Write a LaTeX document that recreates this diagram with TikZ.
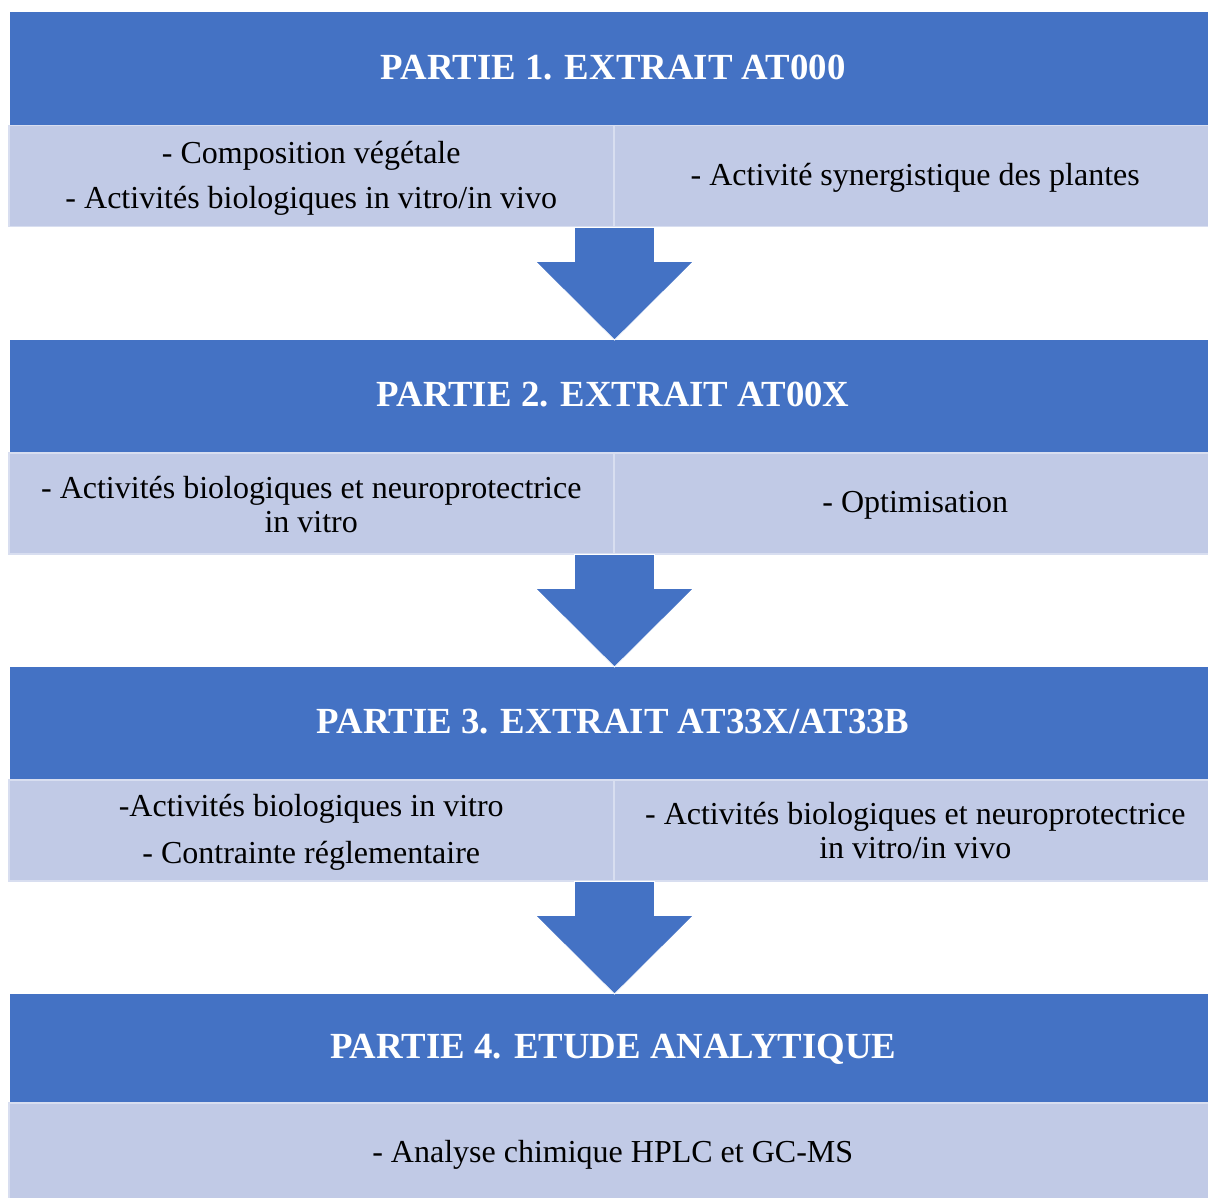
\documentclass[tikz,border=0pt]{standalone}
\usepackage{fontspec}
\setmainfont{Liberation Serif}
\usetikzlibrary{calc}
\definecolor{hblue}{HTML}{4472C4}
\definecolor{lblue}{HTML}{C1CAE6}
\definecolor{lborder}{HTML}{D8DEF0}
\begin{document}
\begin{tikzpicture}[x=1pt,y=-1pt,
  header/.style={fill=hblue, draw=none, minimum width=1198pt, minimum height=113pt, inner sep=0pt,
    anchor=north west},
  htext/.style={text=white, font=\fontsize{36.8}{40}\selectfont\bfseries},
  cellL/.style={fill=lblue, draw=lborder, line width=1.5pt, anchor=north west, inner sep=0pt,
    minimum width=605pt, minimum height=101pt},
  cellR/.style={fill=lblue, draw=lborder, line width=1.5pt, anchor=north west, inner sep=0pt,
    minimum width=595pt, minimum height=101pt},
  body/.style={font=\fontsize{32}{#1}\selectfont, align=center},
  flow/.style={fill=hblue, draw=white, line width=0.8pt}
]
\useasboundingbox[fill=white] (0,0) rectangle (1208,1198);

% Part 1
\node[header] (h1) at (10,12) {};
\node[htext] (t1) at ($(h1.center)+(4,-1.5)$) {PARTIE 1. EXTRAIT AT000};
\node[cellL] (c1l) at (8,125) {};
\node[cellR] (c1r) at (613,125) {};
\node[body=45] (t1l) at ($(c1l.center)+(0,2)$) {- Composition végétale\\- Activités biologiques in vitro/in vivo};
\node[body=45] (t1r) at ($(c1r.center)+(4,2)$) {- Activité synergistique des plantes};

% Part 2
\node[header, minimum height=112pt] (h2) at (10,340) {};
\node[htext] (t2) at ($(h2.center)+(4,-2)$) {PARTIE 2. EXTRAIT AT00X};
\node[cellL] (c2l) at (8,452) {};
\node[cellR] (c2r) at (613,452) {};
\node[body=34] (t2l) at ($(c2l.center)+(0,1)$) {- Activités biologiques et neuroprotectrice\\in vitro};
\node[body=34] (t2r) at ($(c2r.center)+(4,2)$) {- Optimisation};

% Part 3
\node[header, minimum height=112pt] (h3) at (10,667) {};
\node[htext] (t3) at ($(h3.center)+(4,-2)$) {PARTIE 3. EXTRAIT AT33X/AT33B};
\node[cellL] (c3l) at (8,779) {};
\node[cellR] (c3r) at (613,779) {};
\node[body=47] (t3l) at ($(c3l.center)+(0,2)$) {-Activités biologiques in vitro\\- Contrainte réglementaire};
\node[body=34] (t3r) at ($(c3r.center)+(4,0)$) {- Activités biologiques et neuroprotectrice\\in vitro/in vivo};

% Part 4
\node[header, minimum height=108pt] (h4) at (10,994) {};
\node[htext] (t4) at ($(h4.center)+(4,1)$) {PARTIE 4. ETUDE ANALYTIQUE};
\node[cellL, minimum width=1200pt, minimum height=98pt] (c4) at (8,1102) {};
\node[body=40] (t4b) at ($(c4.center)+(4,3)$) {- Analyse chimique HPLC et GC-MS};

% Arrows
\foreach \a/\b in {c1l/h2, c2l/h3, c3l/h4}{
  \draw[flow] (\a.south east) ++(-40,0) -- ++(80,0) -- ++(0,34) -- ++(39,0)
    -- (\a.south east |- \b.north) -- ($(\a.south east)+(-79,34)$) -- ++(39,0) -- cycle;
}
\end{tikzpicture}
\end{document}
